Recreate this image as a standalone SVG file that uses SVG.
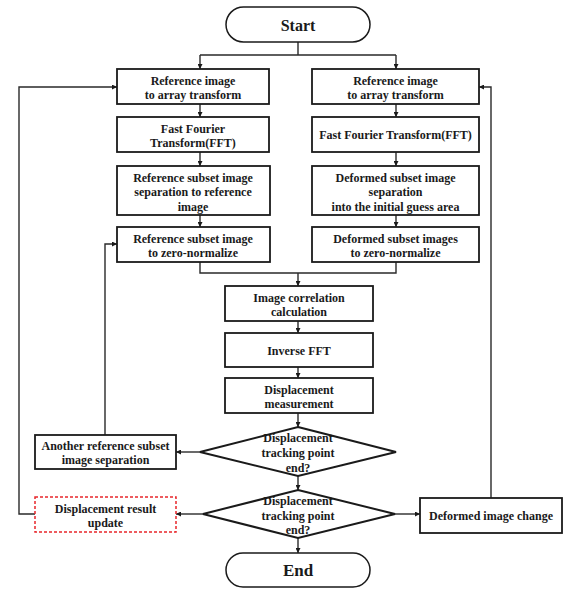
<svg xmlns="http://www.w3.org/2000/svg" width="576" height="594" viewBox="0 0 576 594">
<style>
.box{fill:#fff;stroke:#1a1a1a;stroke-width:1.8}
.pill{fill:#fff;stroke:#1a1a1a;stroke-width:1.5}
.red{fill:#fff;stroke:#e8262b;stroke-width:1.5;stroke-dasharray:3 2}
.dia{fill:#fff;stroke:#1a1a1a;stroke-width:2}
.t{font-family:"Liberation Serif","Times New Roman",serif;font-weight:bold;font-size:12px;fill:#1a1a1a;text-anchor:middle}
.con{fill:none;stroke:#2a2a2a;stroke-width:1.4}
</style>
<defs>
<marker id="arr" viewBox="0 0 10 10" refX="10" refY="5" markerWidth="5" markerHeight="5" orient="auto" markerUnits="userSpaceOnUse">
<path d="M0,0 L10,5 L0,10 z" fill="#1a1a1a"/>
</marker>
</defs>
<rect width="576" height="594" fill="#fff"/>

<g id="connectors">
<path class="con" d="M298,42 V55 M200,55 H396"/>
<path class="con" d="M200,55 V69" marker-end="url(#arr)"/>
<path class="con" d="M396,55 V69" marker-end="url(#arr)"/>
<path class="con" d="M200,104 V117" marker-end="url(#arr)"/>
<path class="con" d="M396,104 V117" marker-end="url(#arr)"/>
<path class="con" d="M200,152 V166" marker-end="url(#arr)"/>
<path class="con" d="M396,152 V166" marker-end="url(#arr)"/>
<path class="con" d="M200,215 V227" marker-end="url(#arr)"/>
<path class="con" d="M396,215 V227" marker-end="url(#arr)"/>
<path class="con" d="M200,262 V273 H396 V262"/>
<path class="con" d="M298,273 V286" marker-end="url(#arr)"/>
<path class="con" d="M298,321 V333" marker-end="url(#arr)"/>
<path class="con" d="M298,367 V378" marker-end="url(#arr)"/>
<path class="con" d="M298,413 V427" marker-end="url(#arr)"/>
<path class="con" d="M298,476 V490" marker-end="url(#arr)"/>
<path class="con" d="M298,538 V553" marker-end="url(#arr)"/>
<path class="con" d="M200,452 H176" marker-end="url(#arr)"/>
<path class="con" d="M203,514 H176" marker-end="url(#arr)"/>
<path class="con" d="M395,514 H420" marker-end="url(#arr)"/>
<path class="con" d="M105,435 V244 H117" marker-end="url(#arr)"/>
<path class="con" d="M35,514 H19 V87 H117" marker-end="url(#arr)"/>
<path class="con" d="M491,498 V87 H479" marker-end="url(#arr)"/>
</g>

<g id="start">
<rect x="226" y="7" width="144" height="35" rx="17.5" class="pill"/>
<text x="298" y="30.5" class="t" style="font-size:16px">Start</text>
</g>

<g id="ref-array">
<rect x="117" y="69" width="152" height="35" class="box"/>
<text x="193" y="84.5" class="t">Reference image</text>
<text x="193" y="99" class="t">to array  transform</text>
</g>
<g id="def-array">
<rect x="312" y="69" width="167" height="35" class="box"/>
<text x="395.5" y="84.5" class="t">Reference image</text>
<text x="395.5" y="99" class="t">to array  transform</text>
</g>

<g id="ref-fft">
<rect x="117" y="117" width="152" height="35" class="box"/>
<text x="193" y="132.5" class="t">Fast Fourier</text>
<text x="193" y="147" class="t">Transform(FFT)</text>
</g>
<g id="def-fft">
<rect x="312" y="117" width="167" height="35" class="box"/>
<text x="395.5" y="139" class="t">Fast Fourier Transform(FFT)</text>
</g>

<g id="ref-sep">
<rect x="117" y="166" width="153" height="49" class="box"/>
<text x="193" y="181.5" class="t">Reference subset image</text>
<text x="193" y="196" class="t">separation  to reference</text>
<text x="193" y="210.5" class="t">image</text>
</g>
<g id="def-sep">
<rect x="312" y="166" width="167" height="49" class="box"/>
<text x="395.5" y="181.5" class="t">Deformed subset image</text>
<text x="395.5" y="196" class="t">separation</text>
<text x="395.5" y="210.5" class="t">into the initial guess area</text>
</g>

<g id="ref-norm">
<rect x="117" y="227" width="153" height="35" class="box"/>
<text x="193" y="242.5" class="t">Reference subset image</text>
<text x="193" y="257" class="t">to zero-normalize</text>
</g>
<g id="def-norm">
<rect x="312" y="227" width="167" height="35" class="box"/>
<text x="395.5" y="242.5" class="t">Deformed subset images</text>
<text x="395.5" y="257" class="t">to zero-normalize</text>
</g>

<g id="correlation">
<rect x="225" y="286" width="148" height="35" class="box"/>
<text x="299" y="301.5" class="t">Image correlation</text>
<text x="299" y="316" class="t">calculation</text>
</g>
<g id="ifft">
<rect x="225" y="333" width="148" height="34" class="box"/>
<text x="299" y="354.5" class="t">Inverse  FFT</text>
</g>
<g id="measure">
<rect x="225" y="378" width="148" height="35" class="box"/>
<text x="299" y="393.5" class="t">Displacement</text>
<text x="299" y="408" class="t">measurement</text>
</g>

<g id="decision1">
<polygon points="298,427 396,452 298,476 200,452" class="dia"/>
<text x="298" y="441.5" class="t">Displacement</text>
<text x="298" y="456.5" class="t">tracking point</text>
<text x="298" y="471.5" class="t">end?</text>
</g>
<g id="another-sep">
<rect x="35" y="435" width="141" height="34" class="box"/>
<text x="105.5" y="449.5" class="t">Another reference subset</text>
<text x="105.5" y="464" class="t">image separation</text>
</g>

<g id="decision2">
<polygon points="298,490 395,514 298,538 203,514" class="dia"/>
<text x="298" y="505" class="t">Displacement</text>
<text x="298" y="519.5" class="t">tracking point</text>
<text x="298" y="534" class="t">end?</text>
</g>
<g id="result-update">
<rect x="35" y="497" width="141" height="35" class="red"/>
<text x="105.5" y="512.5" class="t">Displacement result</text>
<text x="105.5" y="527" class="t">update</text>
</g>
<g id="image-change">
<rect x="420" y="498" width="142" height="35" class="box"/>
<text x="491" y="520" class="t">Deformed image change</text>
</g>

<g id="end">
<rect x="226" y="553" width="144" height="34" rx="17" class="pill"/>
<text x="298" y="576" class="t" style="font-size:17px">End</text>
</g>
</svg>
